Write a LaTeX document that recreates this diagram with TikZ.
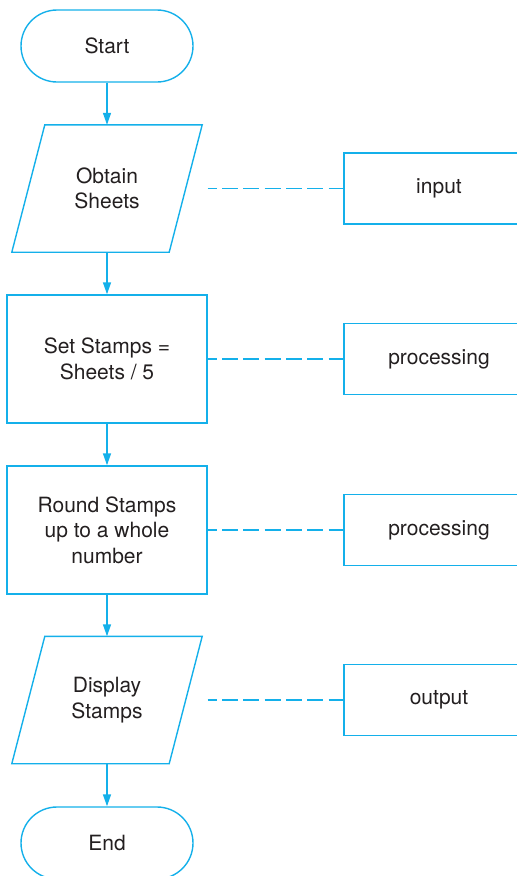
\documentclass[tikz,border=0pt]{standalone}
\usepackage{fontspec}
\setmainfont{TeX Gyre Heros}
\usetikzlibrary{arrows.meta}
\definecolor{flowcyan}{RGB}{20,176,234}
\definecolor{inkgray}{RGB}{35,31,32}
\begin{document}
\begin{tikzpicture}[x=1pt,y=-1pt,
  every node/.style={text=inkgray, font=\fontsize{21}{25.5}\selectfont, align=center, inner sep=0pt},
  line/.style={draw=flowcyan, line width=1.4pt},
  terminal/.style={line, rectangle, rounded corners=36pt, minimum width=172pt, minimum height=72pt},
  stepbox/.style={line, rectangle, minimum width=200pt, minimum height=128pt},
  iobox/.style={rectangle, minimum width=190pt, minimum height=127pt},
  tagbox/.style={line, rectangle, minimum width=190pt, minimum height=71pt},
  flow/.style={line, -{Triangle[length=12pt,width=8pt]}},
  dashline/.style={line, dash pattern=on 16pt off 5.33pt, dash phase=7pt}
]
\useasboundingbox (0,0) rectangle (517,876);

% main column
\node[terminal] (start) at (107,46) {Start};
\node[iobox] (obtain) at (107,188.5) {Obtain\\Sheets};
\node[stepbox] (setst) at (107,359) {Set Stamps =\\Sheets / 5};
\node[stepbox] (round) at (107,530) {Round Stamps\\up to a whole\\number};
\node[iobox] (disp) at (107,700) {Display\\Stamps};
\node[terminal] (end) at (107,843) {End};

% parallelogram outlines for the input/output steps
\draw[line] ([xshift=33pt]obtain.north west) -- (obtain.north east)
  -- ([xshift=-33pt]obtain.south east) -- (obtain.south west) -- cycle;
\draw[line] ([xshift=33pt]disp.north west) -- (disp.north east)
  -- ([xshift=-33pt]disp.south east) -- (disp.south west) -- cycle;

% category boxes on the right
\node[tagbox] (tin) at (439,188.5) {input};
\node[tagbox] (tp1) at (439,359) {processing};
\node[tagbox] (tp2) at (439,530) {processing};
\node[tagbox] (tout) at (439,700) {output};

% flow arrows
\draw[flow] (start) -- (obtain);
\draw[flow] (obtain) -- (setst);
\draw[flow] (setst) -- (round);
\draw[flow] (round) -- (disp);
\draw[flow] (disp) -- (end);

% dashed links to the categories
\draw[dashline] (obtain.center -| setst.east) -- (tin.west);
\draw[dashline] (setst.east) -- (tp1.west);
\draw[dashline] (round.east) -- (tp2.west);
\draw[dashline] (disp.center -| setst.east) -- (tout.west);
\end{tikzpicture}
\end{document}
